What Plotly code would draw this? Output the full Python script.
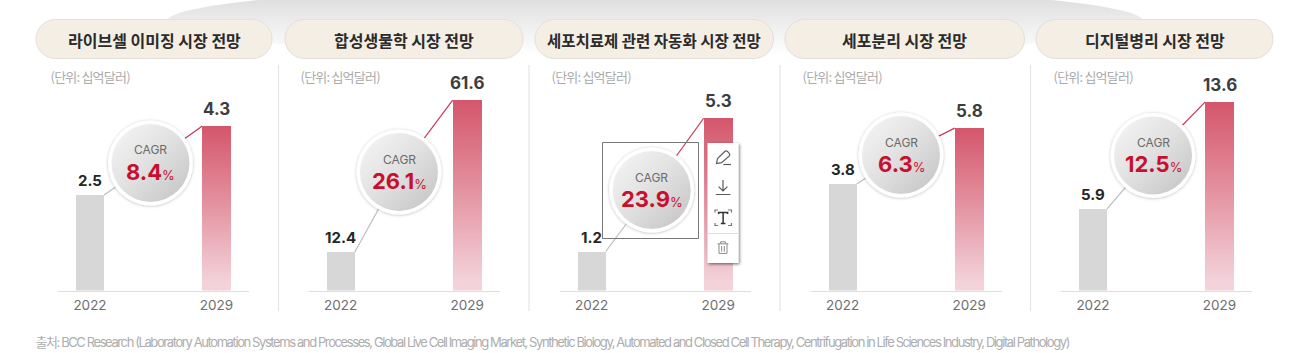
import base64
import plotly.graph_objects as go

W, H = 1289, 353

# ---- data ----
CATEGORIES = ["2022", "2029"]
TITLES = ["라이브셀 이미징 시장 전망", "합성생물학 시장 전망", "세포치료제 관련 자동화 시장 전망", "세포분리 시장 전망", "디지털병리 시장 전망"]
START_VALUES = [2.5, 12.4, 1.2, 3.8, 5.9]
END_VALUES = [4.3, 61.6, 5.3, 5.8, 13.6]
CAGR_VALUES = ["8.4", "26.1", "23.9", "6.3", "12.5"]
UNIT_LABEL = "(단위: 십억달러)"
SOURCE_NOTE = ("출처: BCC Research (Laboratory Automation Systems and Processes, Global Live Cell Imaging Market, "
               "Synthetic Biology, Automated and Closed Cell Therapy, Centrifugation in Life Sciences Industry, Digital Pathology)")

# ---- layout constants (pixels) ----
BASE_Y = 290.5
PANEL_DX = [0, 250.7, 501.7, 752.7, 1003]
PX_PER_UNIT = [38.2, 3.09, 32.5, 28.0, 13.85]
BUBBLES = [(150.5, 163), (399, 172), (651.7, 190), (901, 155), (1153, 155.5)]
PILLS = [(36, 272), (285, 523), (535, 773.5), (785, 1024.5), (1036, 1273)]
SEPARATORS = [278.5, 529, 780, 1030.5]
AXIS_L, AXIS_R = 58, 249
C0, C1 = 90, 216.5
FONT_LATIN = "Inter, 'Noto Sans CJK KR', sans-serif"
FONT_KR = "'Noto Sans CJK KR', sans-serif"


def px(x):
    return x / W


def py(y):
    return 1 - y / H


def svg_uri(svg):
    return "data:image/svg+xml;base64," + base64.b64encode(svg.encode("utf-8")).decode("ascii")


def pill_path(x0, x1, y0, y1):
    r = (y1 - y0) / 2
    k = r * 0.5523
    pts = [
        ("M", (x0 + r, y0)), ("L", (x1 - r, y0)),
        ("C", (x1 - r + k, y0), (x1, y0 + r - k), (x1, y0 + r)),
        ("C", (x1, y0 + r + k), (x1 - r + k, y1), (x1 - r, y1)),
        ("L", (x0 + r, y1)),
        ("C", (x0 + r - k, y1), (x0, y0 + r + k), (x0, y0 + r)),
        ("C", (x0, y0 + r - k), (x0 + r - k, y0), (x0 + r, y0)),
    ]
    s = ""
    for p in pts:
        s += p[0] + " ".join(f"{px(a):.6f},{py(b):.6f}" for a, b in p[1:]) + " "
    return s + "Z"


ARCH_SVG = f"""<svg xmlns="http://www.w3.org/2000/svg" width="{W}" height="80" viewBox="0 0 {W} 80">
<defs><linearGradient id="a" gradientUnits="userSpaceOnUse" x1="0" y1="0" x2="0" y2="56">
<stop offset="0" stop-color="#dfdfdf"/><stop offset="0.4" stop-color="#ededed"/><stop offset="1" stop-color="#ffffff"/></linearGradient></defs>
<ellipse cx="655" cy="21" rx="488" ry="36" fill="url(#a)"/></svg>"""

BUBBLE_SVG = """<svg xmlns="http://www.w3.org/2000/svg" width="100" height="100" viewBox="0 0 100 100">
<defs><linearGradient id="b" x1="0.1" y1="0.1" x2="0.9" y2="0.9">
<stop offset="0" stop-color="#f2f2f2"/><stop offset="0.5" stop-color="#e0e0e0"/><stop offset="1" stop-color="#c8c8c8"/></linearGradient>
<filter id="s" x="-20%" y="-20%" width="140%" height="140%"><feDropShadow dx="0" dy="0.5" stdDeviation="1.6" flood-color="#000" flood-opacity="0.28"/></filter></defs>
<circle cx="50" cy="50" r="42.5" fill="#fff" filter="url(#s)"/>
<circle cx="50" cy="50" r="39" fill="url(#b)"/></svg>"""

TOOLBAR_SVG = """<svg xmlns="http://www.w3.org/2000/svg" width="50" height="140" viewBox="700 136 50 140">
<defs><filter id="t" x="-30%" y="-10%" width="160%" height="120%"><feDropShadow dx="1" dy="1.2" stdDeviation="1.5" flood-color="#000" flood-opacity="0.55"/></filter></defs>
<rect x="707.5" y="143" width="31" height="120" fill="#fff" filter="url(#t)"/>
<line x1="708" y1="233.5" x2="738" y2="233.5" stroke="#dcdcdc"/>
<g fill="none" stroke="#5a5a5a" stroke-width="1.2">
<path d="M716.5 163.5 L717.5 158.5 L725 151.2 C726.5 150 730.5 153.5 729.6 155.6 L721.6 162.6 Z"/>
<path d="M723.4 164.5 H731"/>
<path d="M723 180 V191 M718.6 186.6 L723 191 L727.4 186.6 M715.8 194.5 H730.4"/>
<path d="M715 212.5 V210 H718 M728 210 H731.5 V212.5 M715 223 V225.5 H718 M728 225.5 H731.5 V223" stroke="#777"/>
<path d="M718.6 214 V212.4 H727.6 V214 M723.1 212.4 V223.5 M720.8 223.5 H725.4" stroke="#333" stroke-width="1.5"/>
<path d="M717.6 243.8 H728.4 M720.6 243.6 V241.8 H725.4 V243.6 M719 244 V253.4 H727 V244 M721.7 246 V251.6 M724.3 246 V251.6" stroke="#8a8a8a" stroke-width="1"/>
</g></svg>"""

fig = go.Figure()
shapes, annotations, images = [], [], []

images.append(dict(source=svg_uri(ARCH_SVG), xref="paper", yref="paper", x=0, y=1, sizex=1, sizey=80 / H,
                   xanchor="left", yanchor="top", sizing="stretch", layer="below"))

layout_axes = {}
for i in range(5):
    n = "" if i == 0 else str(i + 1)
    dx = PANEL_DX[i]
    k = PX_PER_UNIT[i]
    v0, v1 = START_VALUES[i], END_VALUES[i]
    unit = C1 - C0
    left, right = AXIS_L + dx, AXIS_R + dx
    fig.add_trace(go.Bar(
        x=CATEGORIES, y=[v0, v1], width=[28 / unit, 29 / unit],
        marker=dict(color=["#d7d7d7", "#e28c9a"], line=dict(width=0)),
        xaxis=f"x{n}", yaxis=f"y{n}", showlegend=False, hoverinfo="skip",
    ))
    layout_axes[f"xaxis{n}"] = dict(
        domain=[px(left), px(right)], type="category", categoryorder="array", categoryarray=CATEGORIES,
        range=[(AXIS_L - C0) / unit, (AXIS_R - C0) / unit], anchor=f"y{n}",
        showline=True, linecolor="#dedede", linewidth=1.5, ticks="", showgrid=False, zeroline=False,
        tickfont=dict(family=FONT_LATIN, size=13.5, color="#6e6e6e"), ticklabelstandoff=2, fixedrange=True,
    )
    layout_axes[f"yaxis{n}"] = dict(
        domain=[py(BASE_Y), 1], range=[0, BASE_Y / k], anchor=f"x{n}", visible=False, fixedrange=True,
    )

    # connectors: bar top corner -> bubble centre
    cx, cy = BUBBLES[i]
    gx = C0 + dx + 14
    rx = C1 + dx - 14.5
    shapes.append(dict(type="line", xref="paper", yref="paper", layer="below", x0=px(gx), y0=py(BASE_Y - v0 * k),
                       x1=px(cx), y1=py(cy), line=dict(color="#bdbdbd", width=1.2)))
    shapes.append(dict(type="line", xref="paper", yref="paper", layer="below", x0=px(rx), y0=py(BASE_Y - v1 * k),
                       x1=px(cx), y1=py(cy), line=dict(color="#cb3450", width=1.2)))

    # bubble
    images.append(dict(source=svg_uri(BUBBLE_SVG), xref="paper", yref="paper", x=px(cx - 50), y=py(cy - 50),
                       sizex=100 / W, sizey=100 / H, xanchor="left", yanchor="top", sizing="stretch", layer="above"))
    annotations.append(dict(xref="paper", yref="paper", x=px(cx), y=py(cy - 13), text="CAGR", showarrow=False,
                            xanchor="center", yanchor="middle",
                            font=dict(family=FONT_LATIN, size=12, color="#6a6a6a")))
    annotations.append(dict(xref="paper", yref="paper", x=px(cx), y=py(cy + 8.5),
                            text=f"<b>{CAGR_VALUES[i]}</b><span style='font-size:13px'>%</span>", showarrow=False,
                            xanchor="center", yanchor="middle",
                            font=dict(family=FONT_LATIN, size=22, color="#c8102e")))

    # pill + title
    a, b = PILLS[i]
    shapes.append(dict(type="path", xref="paper", yref="paper", layer="below", path=pill_path(a, b, 19.5, 58.5),
                       fillcolor="#f5eee5", line=dict(color="#e5dfd7", width=1)))
    annotations.append(dict(xref="paper", yref="paper", x=px((a + b) / 2), y=py(39.5), text=TITLES[i], showarrow=False,
                            xanchor="center", yanchor="middle",
                            font=dict(family=FONT_KR, size=15.5 if i == 2 else 16, color="#2b2b2b", weight=700)))

    # unit
    annotations.append(dict(xref="paper", yref="paper", x=px(90 + dx), y=py(76), text=UNIT_LABEL, showarrow=False,
                            xanchor="center", yanchor="middle",
                            font=dict(family=FONT_KR, size=13, color="#ababab")))

    # value labels
    annotations.append(dict(xref=f"x{n}", yref=f"y{n}", x=0, y=v0, yanchor="bottom", xanchor="center",
                            yshift=3, text=f"<b>{v0}</b>", showarrow=False,
                            font=dict(family=FONT_LATIN, size=15, color="#262626")))
    annotations.append(dict(xref=f"x{n}", yref=f"y{n}", x=1, y=v1, yanchor="bottom", xanchor="center",
                            yshift=5, text=f"<b>{v1}</b>", showarrow=False,
                            font=dict(family=FONT_LATIN, size=17, color="#3d3d3d")))

for s in SEPARATORS:
    shapes.append(dict(type="line", xref="paper", yref="paper", layer="below", x0=px(s), x1=px(s), y0=py(65), y1=py(311),
                       line=dict(color="#e4e4e4", width=1.2)))

# selection frame and edit toolbar over the third panel
shapes.append(dict(type="rect", xref="paper", yref="paper", layer="above", x0=px(602.5), x1=px(698.5), y0=py(142.5), y1=py(238.5),
                   line=dict(color="#777777", width=1), fillcolor="rgba(0,0,0,0)"))
images.append(dict(source=svg_uri(TOOLBAR_SVG), xref="paper", yref="paper", x=px(700), y=py(136), sizex=50 / W, sizey=140 / H,
                   xanchor="left", yanchor="top", sizing="stretch", layer="above"))

annotations.append(dict(xref="paper", yref="paper", x=px((35 + 1070) / 2), y=py(342), text=SOURCE_NOTE, showarrow=False,
                        xanchor="center", yanchor="middle",
                        font=dict(family=FONT_LATIN, size=13, color="#adadad")))

fig.update_layout(
    width=W, height=H, margin=dict(l=0, r=0, t=0, b=0), autosize=False,
    paper_bgcolor="#ffffff", plot_bgcolor="rgba(0,0,0,0)", barmode="overlay", bargap=0,
    hovermode=False, shapes=shapes, annotations=annotations, images=images, **layout_axes,
)

POST = """
document.documentElement.style.margin='0';document.body.style.margin='0';document.body.style.overflow='hidden';
var gd=document.getElementById('{plot_id}');
var svg=gd.querySelector('svg.main-svg');
var NS='http://www.w3.org/2000/svg';
var defs=svg.querySelector('defs');
var g=document.createElementNS(NS,'linearGradient');
g.setAttribute('id','barGrad');g.setAttribute('x1','0');g.setAttribute('y1','0');g.setAttribute('x2','0');g.setAttribute('y2','1');
[['0','#d4566c'],['0.45','#e38f9d'],['0.95','#f3d2da'],['1','#f3d2da']].forEach(function(s){
  var st=document.createElementNS(NS,'stop');st.setAttribute('offset',s[0]);st.setAttribute('stop-color',s[1]);g.appendChild(st);});
defs.appendChild(g);
gd.querySelectorAll('.barlayer .trace').forEach(function(t){
  var p=t.querySelectorAll('.point path');
  if(p.length>1){p[1].style.fill='url(#barGrad)';p[1].style.opacity='1';}
});
gd.querySelectorAll('text.annotation-text').forEach(function(t){
  var s=t.textContent;
  if(s.indexOf('출처')===0){t.setAttribute('textLength','1035');t.setAttribute('lengthAdjust','spacing');}
  if(s.indexOf('(단위')===0){t.setAttribute('textLength','80');t.setAttribute('lengthAdjust','spacing');}
});
"""

fig.write_html("out.html", config=dict(displayModeBar=False, staticPlot=True), post_script=POST)
